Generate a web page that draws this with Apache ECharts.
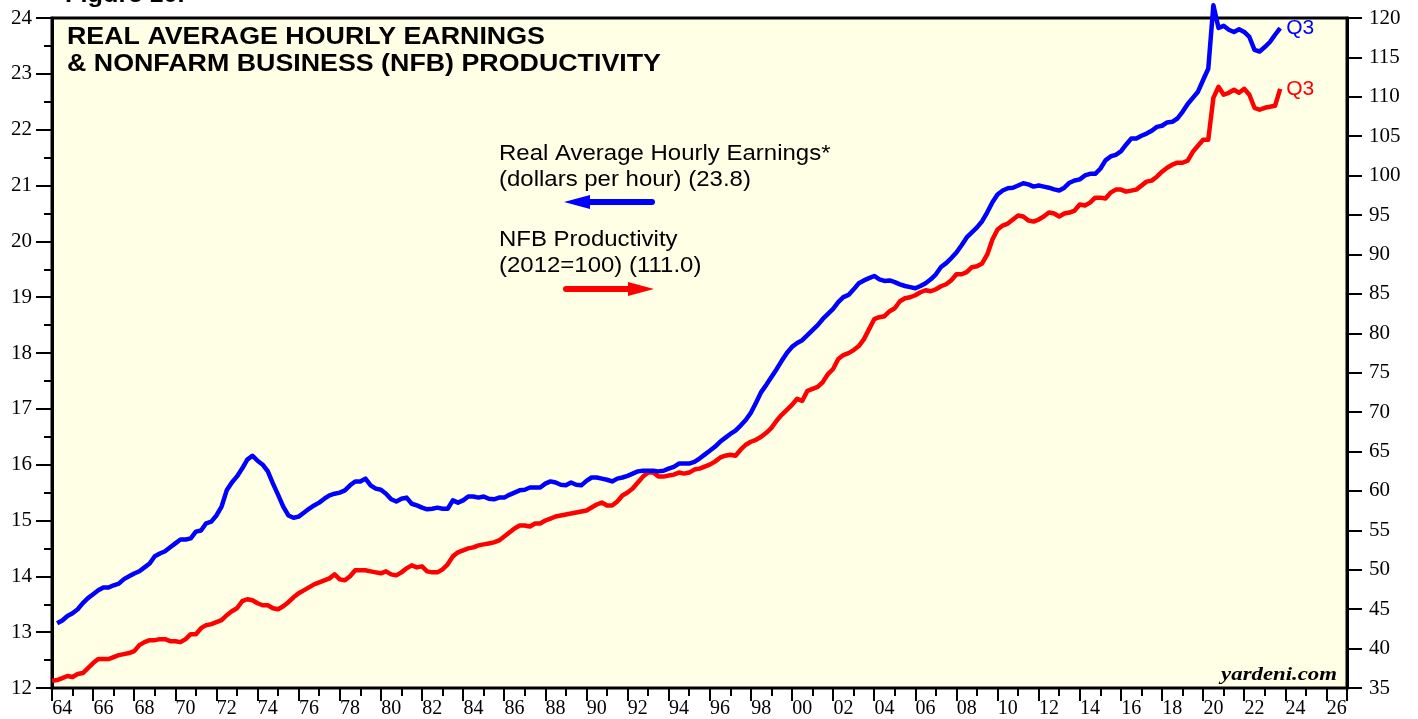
<!DOCTYPE html>
<html>
<head>
<meta charset="utf-8">
<script src="https://cdn.jsdelivr.net/npm/echarts@6/dist/echarts.min.js"></script>
<style>
html,body{margin:0;padding:0;background:#fff;}
#chart{width:1418px;height:719px;}
</style>
</head>
<body>
<div id="chart"></div>
<script>
// Year tick labels (each label centred in its year)
const yearLabels = ['64','65','66','67','68','69','70','71','72','73','74','75','76','77','78','79',
  '80','81','82','83','84','85','86','87','88','89','90','91','92','93','94','95','96','97','98','99',
  '00','01','02','03','04','05','06','07','08','09','10','11','12','13','14','15','16','17','18','19',
  '20','21','22','23','24','25','26'];

// Real average hourly earnings, dollars per hour, quarterly from 1964 Q1 to 2023 Q3
const earningsStart = 1964; // first quarter: Q1
const earnings = [
  13.16,13.21,13.29,13.34, 13.41,13.52,13.61,13.68, 13.75,13.80,13.80,13.84, 13.87,13.95,14.00,14.05,
  14.09,14.16,14.23,14.36, 14.41,14.45,14.52,14.59, 14.66,14.66,14.68,14.80, 14.82,14.95,14.98,15.09,
  15.25,15.54,15.68,15.79, 15.93,16.09,16.16,16.07, 16.00,15.88,15.66,15.46, 15.25,15.09,15.05,15.07,
  15.14,15.21,15.27,15.32, 15.39,15.45,15.48,15.50, 15.54,15.63,15.70,15.70, 15.75,15.63,15.57,15.55,
  15.48,15.38,15.34,15.39, 15.41,15.30,15.27,15.23, 15.20,15.21,15.23,15.21, 15.21,15.36,15.32,15.36,
  15.43,15.43,15.41,15.43, 15.39,15.38,15.41,15.41, 15.46,15.50,15.54,15.55, 15.59,15.59,15.59,15.66,
  15.70,15.68,15.64,15.63, 15.68,15.64,15.63,15.71, 15.77,15.77,15.75,15.73, 15.70,15.75,15.77,15.80,
  15.84,15.88,15.89,15.89, 15.89,15.88,15.89,15.93, 15.96,16.02,16.02,16.02, 16.05,16.11,16.18,16.25,
  16.32,16.41,16.48,16.55, 16.61,16.70,16.80,16.93, 17.11,17.30,17.43,17.57, 17.71,17.86,18.00,18.11,
  18.18,18.23,18.32,18.41, 18.50,18.61,18.70,18.79, 18.91,19.00,19.04,19.14, 19.25,19.30,19.34,19.38,
  19.32,19.29,19.30,19.27, 19.23,19.20,19.18,19.16, 19.20,19.25,19.32,19.41, 19.54,19.61,19.70,19.80,
  19.93,20.07,20.16,20.25, 20.36,20.52,20.70,20.84, 20.91,20.95,20.96,21.00, 21.04,21.02,20.98,21.00,
  20.98,20.96,20.93,20.91, 20.96,21.05,21.09,21.11, 21.18,21.21,21.21,21.30, 21.45,21.52,21.55,21.61,
  21.73,21.84,21.84,21.89, 21.93,21.98,22.05,22.07, 22.13,22.14,22.20,22.32, 22.46,22.57,22.68,22.89,
  23.09,24.23,23.82,23.86, 23.79,23.75,23.80,23.75, 23.66,23.43,23.40,23.48, 23.57,23.70,23.82
];

// Nonfarm business productivity, 2012=100, quarterly from 1963 Q4 to 2023 Q3
const productivityStart = 1963.75; // first quarter: Q4 1963
const productivity = [
  35.90,
  36.01,36.26,36.52,36.39, 36.77,36.90,37.53,38.16, 38.67,38.67,38.67,38.92, 39.17,39.30,39.43,39.68,
  40.44,40.82,41.07,41.07, 41.20,41.20,40.94,40.94, 40.82,41.20,41.83,41.83, 42.59,42.97,43.10,43.35,
  43.60,44.23,44.74,45.12, 46.01,46.26,46.13,45.75, 45.50,45.50,45.12,44.99, 45.37,45.88,46.51,47.02,
  47.39,47.77,48.15,48.40, 48.66,48.91,49.42,48.78, 48.66,49.17,49.93,49.93, 49.93,49.80,49.67,49.55,
  49.80,49.42,49.29,49.67, 50.18,50.56,50.30,50.43, 49.80,49.67,49.67,50.05, 50.69,51.70,52.21,52.46,
  52.71,52.84,53.09,53.22, 53.34,53.47,53.72,54.23, 54.73,55.24,55.62,55.62, 55.49,55.87,55.87,56.25,
  56.50,56.76,56.88,57.01, 57.14,57.26,57.39,57.52, 57.90,58.28,58.53,58.15, 58.15,58.66,59.42,59.80,
  60.30,61.06,61.82,62.33, 62.33,61.82,61.82,61.95, 62.07,62.33,62.20,62.33, 62.71,62.83,63.09,63.34,
  63.72,64.22,64.47,64.60, 64.47,65.23,65.86,66.24, 66.49,66.87,67.38,68.01, 68.90,69.66,70.29,70.92,
  71.69,71.43,72.70,72.95, 73.19,73.82,74.83,75.47, 76.73,77.24,77.49,77.87, 78.38,79.26,80.53,81.79,
  82.04,82.17,82.80,83.18, 84.07,84.45,84.57,84.83, 85.21,85.46,85.33,85.59, 85.97,86.22,86.73,87.49,
  87.49,87.75,88.38,88.50, 88.86,90.00,91.90,93.17, 93.67,93.92,94.43,94.94, 94.81,94.30,94.17,94.43,
  94.81,95.32,95.19,94.81, 95.19,95.32,95.57,96.33, 96.21,96.58,97.21,97.21, 97.09,97.85,98.23,98.23,
  97.97,98.10,98.23,98.73, 99.24,99.37,99.87,100.50, 101.01,101.39,101.64,101.64, 101.90,103.03,103.79,104.55,
  104.55,109.87,111.27,110.26, 110.51,110.89,110.51,111.02, 110.26,108.61,108.36,108.61, 108.74,108.86,111.00
];

const titleLines = ['REAL AVERAGE HOURLY EARNINGS', '& NONFARM BUSINESS (NFB) PRODUCTIVITY'];
const earningsLegend = ['Real Average Hourly Earnings*', '(dollars per hour) (23.8)'];
const productivityLegend = ['NFB Productivity', '(2012=100) (111.0)'];
const endTag = 'Q3';

// points placed at end of each quarter
function toPoints(start, vals) {
  return vals.map((v, i) => [start + (i + 1) / 4, v]);
}

const chart = echarts.init(document.getElementById('chart'), null, {renderer: 'canvas'});

const serif = 'Liberation Serif';
const sans = 'Liberation Sans';

function txt(x, y, text, font, fill, sx, align) {
  return {
    type: 'text', x: x, y: y, scaleX: sx || 1, z: 100,
    style: { text: text, font: font, fill: fill || '#000', textAlign: align || 'left', textVerticalAlign: 'middle', x: 0, y: 0 }
  };
}

const option = {
  animation: false,
  backgroundColor: '#ffffff',
  grid: { left: 52, right: 71, top: 18, bottom: 29, show: true, backgroundColor: '#FFFFE6', borderColor: '#000', borderWidth: 3, containLabel: false },
  xAxis: [
    { type: 'value', min: 1964, max: 2027, interval: 1, position: 'bottom',
      axisLine: { show: false }, axisLabel: { show: false }, splitLine: { show: false },
      axisTick: { show: true, length: 8, lineStyle: { color: '#000', width: 2 } } },
    { type: 'category', data: yearLabels, boundaryGap: true, position: 'bottom',
      axisLine: { show: false }, splitLine: { show: false },
      axisTick: { show: true, interval: 1, length: 13, lineStyle: { color: '#000', width: 2 } },
      axisLabel: { interval: 1, color: '#000', fontFamily: serif, fontSize: 20, margin: 11 } }
  ],
  yAxis: [
    { type: 'value', position: 'left', min: 12, max: 24, interval: 1,
      axisLine: { show: true, lineStyle: { color: '#000', width: 3 } },
      axisTick: { show: true, length: 16, lineStyle: { color: '#000', width: 2 } },
      minorTick: { show: true, splitNumber: 2, length: 8, lineStyle: { color: '#000', width: 2 } },
      splitLine: { show: false }, minorSplitLine: { show: false },
      axisLabel: { color: '#000', fontFamily: serif, fontSize: 21, margin: 20 } },
    { type: 'value', position: 'right', min: 35, max: 120, interval: 5,
      axisLine: { show: true, lineStyle: { color: '#000', width: 3 } },
      axisTick: { show: true, length: 15, lineStyle: { color: '#000', width: 2 } },
      splitLine: { show: false },
      axisLabel: { color: '#000', fontFamily: serif, fontSize: 21, margin: 22 } }
  ],
  series: [
    { name: 'Earnings', type: 'line', xAxisIndex: 0, yAxisIndex: 0, data: toPoints(earningsStart, earnings),
      showSymbol: false, symbol: 'none', clip: false, z: 5,
      lineStyle: { color: '#0000FF', width: 4.5, join: 'round' },
      endLabel: { show: true, formatter: endTag, color: '#0000FF', fontFamily: sans, fontSize: 21, distance: 6 } },
    { name: 'Productivity', type: 'line', xAxisIndex: 0, yAxisIndex: 1, data: toPoints(productivityStart, productivity),
      showSymbol: false, symbol: 'none', clip: false, z: 4,
      lineStyle: { color: '#FF0000', width: 4.5, join: 'round' },
      endLabel: { show: true, formatter: endTag, color: '#FF0000', fontFamily: sans, fontSize: 21, distance: 6 } }
  ],
  graphic: [
    txt(65, -4, 'Figure 10.', 'bold 22px ' + sans, '#000', 1.15),
    txt(67, 38, titleLines[0], 'bold 23px ' + sans, '#000', 1.165),
    txt(67, 65, titleLines[1], 'bold 23px ' + sans, '#000', 1.165),
    txt(499, 154, earningsLegend[0], '22px ' + sans, '#000', 1.09),
    txt(499, 180, earningsLegend[1], '22px ' + sans, '#000', 1.09),
    txt(499, 240, productivityLegend[0], '22px ' + sans, '#000', 1.09),
    txt(499, 266, productivityLegend[1], '22px ' + sans, '#000', 1.09),
    { type: 'line', z: 100, shape: { x1: 583, y1: 202, x2: 652, y2: 202 }, style: { stroke: '#0000FF', lineWidth: 6, lineCap: 'round' } },
    { type: 'polygon', z: 100, shape: { points: [[564, 202], [590, 195], [590, 209]] }, style: { fill: '#0000FF' } },
    { type: 'line', z: 100, shape: { x1: 566, y1: 289, x2: 635, y2: 289 }, style: { stroke: '#FF0000', lineWidth: 6, lineCap: 'round' } },
    { type: 'polygon', z: 100, shape: { points: [[654, 289], [628, 282], [628, 296]] }, style: { fill: '#FF0000' } },
    txt(1337, 675, 'yardeni.com', 'italic bold 19px ' + serif, '#000', 1.2, 'right')
  ]
};
chart.setOption(option);
</script>
</body>
</html>
